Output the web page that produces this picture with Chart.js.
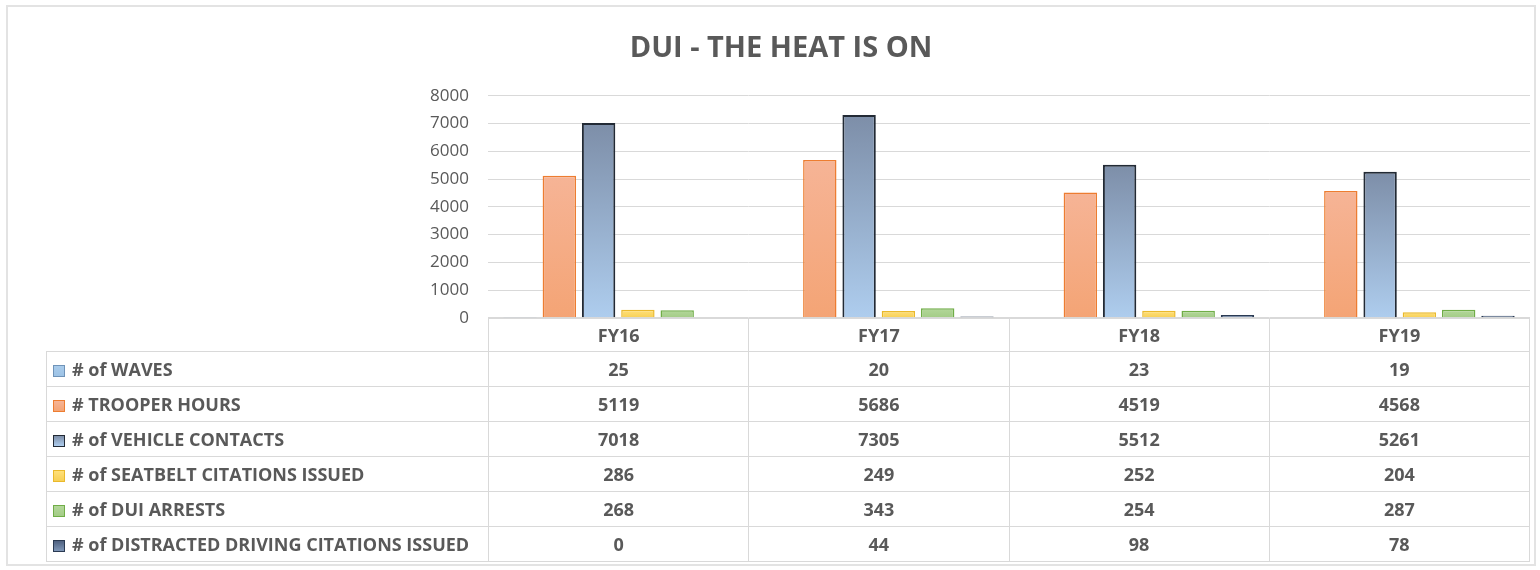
<!DOCTYPE html>
<html>
<head>
<meta charset="utf-8">
<script src="https://cdn.jsdelivr.net/npm/chart.js@4.4.1/dist/chart.umd.min.js"></script>
<style>
  body { margin: 0; background: #fff; font-family: "Open Sans", sans-serif; }
  #frame { position: absolute; left: 6px; top: 5px; width: 1530px; height: 561px; border: 2px solid #e3e3e3; box-sizing: border-box; }
  #chartCanvas { position: absolute; left: 0; top: 0; }
  #dataTable { position: absolute; left: 46px; top: 318px; width: 1484px; border-collapse: collapse; table-layout: fixed; color: #595959; font-size: 18px; font-weight: 700; }
  #dataTable td { border: 1px solid #d9d9d9; text-align: center; height: 34px; padding: 0; }
  #dataTable tr.head td { height: 32px; }
  #dataTable td.blank { border-top: hidden; border-left: hidden; }
  #dataTable td.name { text-align: left; padding-left: 6px; white-space: nowrap; }
  .key { display: inline-block; width: 12px; height: 12px; margin-right: 7px; vertical-align: -1px; box-sizing: border-box; }
</style>
</head>
<body>
<div id="frame"></div>
<canvas id="chartCanvas" width="1540" height="347"></canvas>
<table id="dataTable"></table>
<script>
// Données du graphique
var years = ['FY16', 'FY17', 'FY18', 'FY19'];
var waves = [25, 20, 23, 19];
var trooperHours = [5119, 5686, 4519, 4568];
var vehicleContacts = [7018, 7305, 5512, 5261];
var seatbeltCitations = [286, 249, 252, 204];
var duiArrests = [268, 343, 254, 287];
var distractedCitations = [0, 44, 98, 78];
var yTicks = [0, 1000, 2000, 3000, 4000, 5000, 6000, 7000, 8000];

// dégradé vertical pour chaque barre
function barGradient(top, bottom) {
    return function (context) {
        var chart = context.chart;
        var area = chart.chartArea;
        if (!area || context.raw == null) return bottom;
        var y = chart.scales.y.getPixelForValue(context.raw);
        if (area.bottom - y < 2) return bottom;
        var g = chart.ctx.createLinearGradient(0, y, 0, area.bottom);
        g.addColorStop(0, top);
        g.addColorStop(1, bottom);
        return g;
    };
}

var series = [
    { label: '# of WAVES', data: waves, top: '#a9cbeb', bottom: '#9dc3e6', border: '#6f93b8', width: 2 },
    { label: '# TROOPER HOURS', data: trooperHours, top: '#f6b496', bottom: '#f4a475', border: '#ed7d31', width: 1.5 },
    { label: '# of VEHICLE CONTACTS', data: vehicleContacts, top: '#7d8ea8', bottom: '#aecdee', border: '#222a35', width: 2 },
    { label: '# of SEATBELT CITATIONS ISSUED', data: seatbeltCitations, top: '#ffe07a', bottom: '#f7d056', border: '#eab92c', width: 1.5 },
    { label: '# of DUI ARRESTS', data: duiArrests, top: '#b3d79a', bottom: '#a3cc86', border: '#70ad47', width: 1.5 },
    { label: '# of DISTRACTED DRIVING CITATIONS ISSUED', data: distractedCitations, top: '#4f6180', bottom: '#7f97b8', border: '#2a3a52', width: 2 }
];

var ctx = document.getElementById('chartCanvas').getContext('2d');
var chart = new Chart(ctx, {
    type: 'bar',
    data: {
        labels: years,
        datasets: series.map(function (s) {
            return {
                label: s.label,
                data: s.data,
                backgroundColor: barGradient(s.top, s.bottom),
                borderColor: s.border,
                borderWidth: s.width,
                categoryPercentage: 0.905,
                barPercentage: 0.85
            };
        })
    },
    options: {
        responsive: false,
        animation: false,
        layout: { padding: { left: 32, right: 10, top: 0, bottom: 0 } },
        plugins: {
            legend: { display: false },
            tooltip: { enabled: false },
            title: {
                display: true,
                text: 'DUI - THE HEAT IS ON',
                color: '#595959',
                font: { family: 'Open Sans', size: 29, weight: 'bold' },
                padding: { top: 31, bottom: 30 }
            }
        },
        scales: {
            x: { display: false },
            y: {
                min: 0,
                max: 8000,
                afterBuildTicks: function (scale) {
                    scale.ticks = yTicks.map(function (v) { return { value: v }; });
                },
                afterFit: function (scale) { scale.width = 456; },
                ticks: {
                    color: '#595959',
                    font: { family: 'Open Sans', size: 17 },
                    padding: 19,
                    callback: function (v) { return String(v); }
                },
                grid: { color: '#d9d9d9', lineWidth: 1, drawTicks: false },
                border: { display: false }
            }
        }
    }
});

// tableau de données sous le graphique
var table = document.getElementById('dataTable');
var html = '<colgroup><col style="width:442px">' + years.map(function () { return '<col>'; }).join('') + '</colgroup>';
html += '<tr class="head"><td class="blank"></td>' + years.map(function (y) { return '<td>' + y + '</td>'; }).join('') + '</tr>';
series.forEach(function (s) {
    html += '<tr><td class="name"><span class="key" style="border:1.5px solid ' + s.border +
        ';background:linear-gradient(' + s.top + ',' + s.bottom + ')"></span>' + s.label + '</td>' +
        s.data.map(function (v) { return '<td>' + v + '</td>'; }).join('') + '</tr>';
});
table.innerHTML = html;
</script>
</body>
</html>
